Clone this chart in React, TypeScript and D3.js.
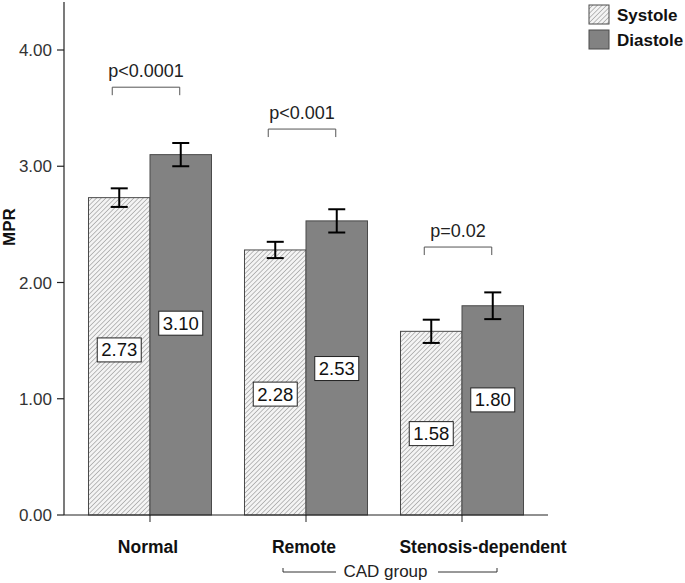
import React from "react";
import * as d3 from "d3";

const groups = ["Normal", "Remote", "Stenosis-dependent"];
const series = ["Systole", "Diastole"];
const systole = [2.73, 2.28, 1.58];
const diastole = [3.1, 2.53, 1.8];
const systoleErr = [0.08, 0.07, 0.1];
const diastoleErr = [0.1, 0.1, 0.115];
const systoleLabelAt = [1.42, 1.04, 0.7];
const diastoleLabelAt = [1.65, 1.26, 0.99];
const pValues = ["p<0.0001", "p<0.001", "p=0.02"];
const bracketAt = [3.68, 3.32, 2.305];
const yTicks = [0, 1, 2, 3, 4];
const groupTitle = "CAD group";

const W = 685;
const H = 583;
const FONT = "'Liberation Sans', Arial, Helvetica, sans-serif";

export default function App() {
  const x0 = d3.scaleBand().domain(groups).range([64, 548]).paddingInner(0.2115).paddingOuter(0.157);
  const x1 = d3.scaleBand().domain(series).range([0, x0.bandwidth()]);
  const y = d3.scaleLinear().domain([0, 4]).range([515, 50]);
  const bw = x1.bandwidth();

  const rows = groups.map((g, i) => ({
    g,
    vals: [
      { s: "Systole", v: systole[i], e: systoleErr[i], l: systoleLabelAt[i] },
      { s: "Diastole", v: diastole[i], e: diastoleErr[i], l: diastoleLabelAt[i] },
    ],
  }));

  const fillFor = (s: string) => (s === "Systole" ? "url(#hatch)" : "#828282");

  return (
    <svg width={W} height={H} style={{ position: "absolute", left: 0, top: 0, background: "#fff" }} fontFamily={FONT}>
      <defs>
        <pattern id="hatch" patternUnits="userSpaceOnUse" width={3.3} height={3.3} patternTransform="rotate(45)">
          <rect width={3.3} height={3.3} fill="#f4f4f4" />
          <line x1={0} y1={0} x2={0} y2={3.3} stroke="#8a8a8a" strokeWidth={1.1} />
        </pattern>
      </defs>

      {/* bars */}
      {rows.map((r) =>
        r.vals.map((d) => {
          const bx = (x0(r.g) as number) + (x1(d.s) as number);
          return (
            <rect
              key={r.g + d.s}
              x={bx}
              y={y(d.v)}
              width={bw}
              height={y(0) - y(d.v)}
              fill={fillFor(d.s)}
              stroke="#4a4a4a"
              strokeWidth={1}
            />
          );
        })
      )}

      {/* error bars */}
      {rows.map((r) =>
        r.vals.map((d) => {
          const cx = (x0(r.g) as number) + (x1(d.s) as number) + bw / 2;
          const t = y(d.v + d.e);
          const b = y(d.v - d.e);
          return (
            <g key={"e" + r.g + d.s} stroke="#000" strokeWidth={2}>
              <line x1={cx} x2={cx} y1={t} y2={b} />
              <line x1={cx - 8.5} x2={cx + 8.5} y1={t} y2={t} />
              <line x1={cx - 8.5} x2={cx + 8.5} y1={b} y2={b} />
            </g>
          );
        })
      )}

      {/* value labels */}
      {rows.map((r) =>
        r.vals.map((d) => {
          const cx = (x0(r.g) as number) + (x1(d.s) as number) + bw / 2;
          const cy = y(d.l);
          return (
            <g key={"l" + r.g + d.s}>
              <rect x={cx - 22} y={cy - 12} width={44} height={24} fill="#fff" stroke="#222" strokeWidth={1} />
              <text x={cx} y={cy + 6.5} textAnchor="middle" fontSize={18.5} fill="#111">
                {d.v.toFixed(2)}
              </text>
            </g>
          );
        })
      )}

      {/* p-value brackets */}
      {groups.map((g, i) => {
        const xa = (x0(g) as number) + (x1("Systole") as number) + bw / 2 - 7;
        const xb = (x0(g) as number) + (x1("Diastole") as number) + bw / 2 - 1;
        const yy = y(bracketAt[i]);
        return (
          <g key={"p" + g}>
            <path d={`M${xa},${yy + 8}V${yy}H${xb}V${yy + 8}`} fill="none" stroke="#555" strokeWidth={1} />
            <text x={(xa + xb) / 2} y={yy - 10} textAnchor="middle" fontSize={18} fill="#222">
              {pValues[i]}
            </text>
          </g>
        );
      })}

      {/* y axis */}
      <line x1={64} x2={64} y1={2} y2={515} stroke="#222" strokeWidth={1.2} />
      {yTicks.map((t) => (
        <g key={"yt" + t}>
          <line x1={57} x2={64} y1={y(t)} y2={y(t)} stroke="#222" strokeWidth={1.2} />
          <text x={52} y={y(t) + 6} textAnchor="end" fontSize={17} fill="#333">
            {t.toFixed(2)}
          </text>
        </g>
      ))}
      <text transform={`translate(15,227) rotate(-90)`} textAnchor="middle" fontSize={17} fontWeight="bold" fill="#111">
        MPR
      </text>

      {/* x axis */}
      <line x1={64} x2={548} y1={515} y2={515} stroke="#222" strokeWidth={1.2} />
      {groups.map((g, i) => {
        const cx = (x0(g) as number) + x0.bandwidth() / 2;
        const dx = i === groups.length - 1 ? 21 : -2;
        return (
          <g key={"xt" + g}>
            <line x1={cx} x2={cx} y1={515} y2={522} stroke="#222" strokeWidth={1} />
            <text x={cx + dx} y={553} textAnchor="middle" fontSize={17.5} fontWeight="bold" fill="#111">
              {g}
            </text>
          </g>
        );
      })}

      {/* CAD group bracket */}
      <path d="M283,568V572H336" fill="none" stroke="#333" strokeWidth={1} />
      <path d="M438,572H497V568" fill="none" stroke="#333" strokeWidth={1} />
      <text x={385.5} y={577} textAnchor="middle" fontSize={17} fill="#222">
        {groupTitle}
      </text>

      {/* legend */}
      {series.map((s, i) => (
        <g key={"lg" + s}>
          <rect x={589} y={5 + i * 25} width={20} height={19} fill={fillFor(s)} stroke="#4a4a4a" strokeWidth={1} />
          <text x={617} y={21 + i * 25} fontSize={17} fontWeight="bold" fill="#111">
            {s}
          </text>
        </g>
      ))}
    </svg>
  );
}
